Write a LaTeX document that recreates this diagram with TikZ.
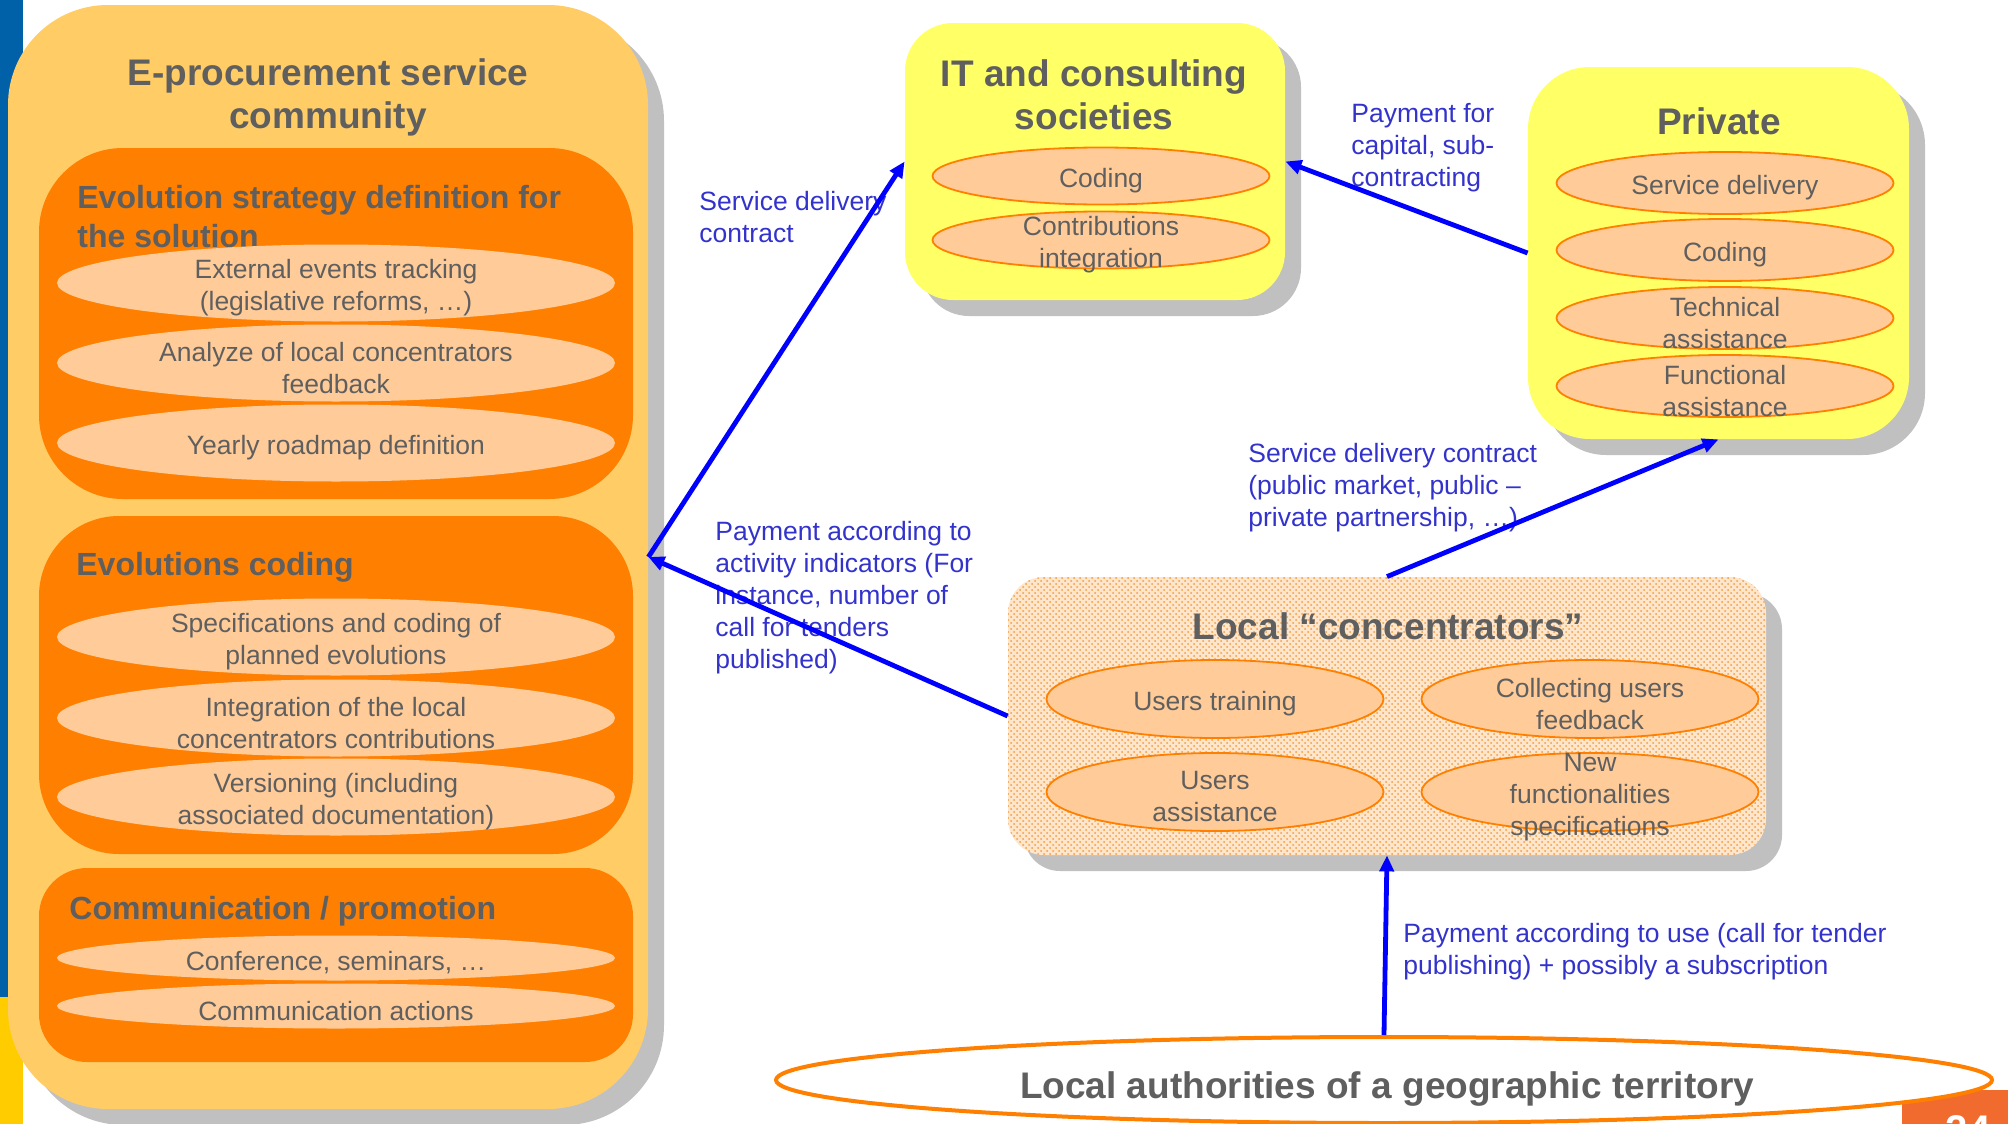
\documentclass[tikz,border=0pt]{standalone}
\usepackage{fontspec}
\setmainfont{Liberation Sans}
\usetikzlibrary{shapes.geometric,arrows.meta,shadows,patterns}
\definecolor{commfill}{HTML}{FFCC66}
\definecolor{orbox}{HTML}{FF7F00}
\definecolor{peach}{HTML}{FFCC99}
\definecolor{yelbox}{HTML}{FFFF66}
\definecolor{shadowgray}{HTML}{C0C0C0}
\definecolor{textgray}{HTML}{5F5F5F}
\definecolor{lblblue}{HTML}{3333CC}
\definecolor{arrblue}{HTML}{0000FF}
\definecolor{ellline}{HTML}{FF8000}
\definecolor{barblue}{HTML}{0061A8}
\definecolor{baryellow}{HTML}{FFCC00}
\definecolor{footorange}{HTML}{F26B2E}
\definecolor{concbg}{HTML}{FDE6CC}
\definecolor{concdot}{HTML}{F59A40}
\begin{document}
\begin{tikzpicture}[x=0.5pt,y=-0.5pt,
  shadowed/.style={drop shadow={shadow xshift=8pt,shadow yshift=-8pt,fill=shadowgray,opacity=1}},
  bigbox/.style={rectangle,inner sep=0pt,shadowed},
  subbox/.style={rectangle,inner sep=0pt,fill=orbox},
  ellleft/.style={ellipse,inner sep=0pt,fill=peach,minimum width=279pt},
  ellbord/.style={ellipse,inner sep=0pt,fill=peach,draw=ellline,line width=0.9pt,minimum width=168.5pt},
  etext/.style={text=textgray,font=\fontsize{13.25}{16}\selectfont,align=center,inner sep=0pt,yshift=-2.5pt},
  titletext/.style={text=textgray,font=\fontsize{18.5}{21.5}\selectfont\bfseries,align=center,inner sep=0pt},
  subtitle/.style={text=textgray,font=\fontsize{16}{19.5}\selectfont\bfseries,align=left,anchor=west,inner sep=0pt},
  lbl/.style={text=lblblue,font=\fontsize{13.25}{16}\selectfont,align=left,anchor=west,inner sep=0pt},
  flow/.style={draw=arrblue,line width=2.4pt,-{Triangle[length=8pt,width=7pt]}}]
\useasboundingbox (0,0) rectangle (2008,1124);
\clip (0,0) rectangle (2008,1124);

% side bars
\fill[barblue] (0,0) rectangle (23,997);
\fill[baryellow] (0,997) rectangle (23,1124);

% footer block
\fill[footorange,rounded corners=8pt] (1902,1140) rectangle (2030,1090);

% ---- E-procurement community ----
\node[bigbox,fill=commfill,rounded corners=50pt,minimum width=320pt,minimum height=552pt] (comm) at (328,557) {};
\node[titletext] (commtitle) at (328,97) {E-procurement service\\community};

\node[subbox,rounded corners=42pt,minimum width=297pt,minimum height=175.5pt] (evs) at (336,323.5) {};
\node[subtitle] (evst) at (77,217) {Evolution strategy definition for\\the solution};
\node[ellleft,minimum height=38.5pt] (e11) at (336,283) {};
\node[etext] at (e11) {External events tracking\\(legislative reforms, …)};
\node[ellleft,minimum height=38.5pt] (e12) at (336,363) {};
\node[etext] at (e12) {Analyze of local concentrators\\feedback};
\node[ellleft,minimum height=38.5pt] (e13) at (336,443) {};
\node[etext] at (e13) {Yearly roadmap definition};

\node[subbox,rounded corners=40pt,minimum width=297pt,minimum height=169pt] (evc) at (336,685) {};
\node[subtitle] (evct) at (76,567) {Evolutions coding};
\node[ellleft,minimum height=38.5pt] (e21) at (336,637) {};
\node[etext] at (e21) {Specifications and coding of\\planned evolutions};
\node[ellleft,minimum height=38.5pt] (e22) at (336,718) {};
\node[etext] at (e22) {Integration of the local\\concentrators contributions};
\node[ellleft,minimum height=38.5pt] (e23) at (336,797) {};
\node[etext] at (e23) {Versioning (including\\associated documentation)};

\node[subbox,rounded corners=24pt,minimum width=297pt,minimum height=97pt] (cop) at (336,965) {};
\node[subtitle] (copt) at (69,911) {Communication / promotion};
\node[ellleft,minimum height=22.5pt] (e31) at (336,958) {};
\node[etext] at (e31) {Conference, seminars, …};
\node[ellleft,minimum height=22.5pt] (e32) at (336,1006) {};
\node[etext] at (e32) {Communication actions};

% ---- IT and consulting ----
\node[bigbox,fill=yelbox,rounded corners=24pt,minimum width=190pt,minimum height=138.5pt] (it) at (1095,161.5) {};
\node[titletext] (ittitle) at (1094,95) {IT and consulting\\societies};
\node[ellbord,minimum height=28.5pt] (i1) at (1101,176) {};
\node[etext] at (i1) {Coding};
\node[ellbord,minimum height=28.5pt] (i2) at (1101,240) {};
\node[etext] at (i2) {Contributions\\integration};

% ---- Private ----
\node[bigbox,fill=yelbox,rounded corners=31pt,minimum width=190.5pt,minimum height=186pt] (priv) at (1718.5,253) {};
\node[titletext] (privtitle) at (1719,121) {Private};
\node[ellbord,minimum height=31pt] (p1) at (1725,183) {};
\node[etext] at (p1) {Service delivery};
\node[ellbord,minimum height=31pt] (p2) at (1725,250) {};
\node[etext] at (p2) {Coding};
\node[ellbord,minimum height=31pt] (p3) at (1725,318) {};
\node[etext] at (p3) {Technical\\assistance};
\node[ellbord,minimum height=31pt] (p4) at (1725,386) {};
\node[etext] at (p4) {Functional\\assistance};

% ---- Local concentrators ----
\node[bigbox,fill=concbg,rounded corners=18pt,minimum width=379pt,minimum height=139pt,
      postaction={pattern=crosshatch dots,pattern color=concdot}] (conc) at (1387,716) {};
\node[titletext] (conctitle) at (1388,626) {Local “concentrators”};
\node[ellbord,minimum height=39pt] (c1) at (1215,699) {};
\node[etext] at (c1) {Users training};
\node[ellbord,minimum height=39pt] (c2) at (1590,699) {};
\node[etext] at (c2) {Collecting users\\feedback};
\node[ellbord,minimum height=39pt] (c3) at (1215,792) {};
\node[etext] at (c3) {Users\\assistance};
\node[ellbord,minimum height=39pt] (c4) at (1590,792) {};
\node[etext] at (c4) {New\\functionalities\\specifications};

% ---- Local authorities ----
\node[ellipse,inner sep=0pt,fill=white,draw=ellline,line width=2pt,minimum width=608pt,minimum height=43pt] (auth) at (1384,1080) {};
\node[titletext] (authtext) at (1387,1089) {Local authorities of a geographic territory};

% page number
\node[text=white,font=\fontsize{20}{20}\selectfont\bfseries,inner sep=0pt] (pg) at (1968,1130) {24};

% ---- labels ----
\node[lbl] (l1) at (699,217.5) {Service delivery\\contract};
\node[lbl] (l2) at (1351,147.5) {Payment for\\capital, sub-\\contracting};
\node[lbl] (l3) at (1248,487.5) {Service delivery contract\\(public market, public –\\private partnership, …)};
\node[lbl] (l4) at (715,598) {Payment according to\\activity indicators (For\\instance, number of\\call for tenders\\published)};
\node[lbl] (l5) at (1403,952) {Payment according to use (call for tender\\publishing) + possibly a subscription};

% ---- arrows ----
\draw[flow] (conc.west) -- (comm.east);
\draw[flow] (comm.east) -- (it.west);
\draw[flow] (priv.west) -- (it.east);
\draw[flow] (conc.north) -- (priv.south);
\draw[flow] (auth.north) -- (conc.south);
\end{tikzpicture}
\end{document}
